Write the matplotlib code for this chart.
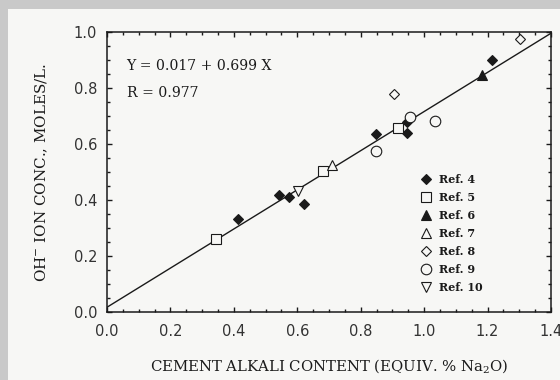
import matplotlib
matplotlib.use("Agg")
import matplotlib.pyplot as plt
from matplotlib.patches import Rectangle
from matplotlib.ticker import MultipleLocator
import numpy as np

# ---- data ----
ref4_x = [0.412, 0.543, 0.573, 0.622, 0.848, 0.947, 0.947, 1.213]
ref4_y = [0.331, 0.419, 0.409, 0.386, 0.635, 0.679, 0.638, 0.901]
ref5_x = [0.344, 0.680, 0.916]
ref5_y = [0.260, 0.505, 0.657]
ref6_x = [1.182]
ref6_y = [0.846]
ref7_x = [0.711]
ref7_y = [0.525]
ref8_x = [0.904, 1.301]
ref8_y = [0.777, 0.974]
ref9_x = [0.848, 0.955, 1.034]
ref9_y = [0.576, 0.695, 0.683]
ref10_x = [0.601]
ref10_y = [0.432]
fit_intercept = 0.017
fit_slope = 0.699
fit_r = 0.977
x_ticks = [0.0, 0.2, 0.4, 0.6, 0.8, 1.0, 1.2, 1.4]
y_ticks = [0.0, 0.2, 0.4, 0.6, 0.8, 1.0]

plt.rcParams['mathtext.fontset'] = 'dejavuserif'
ink = '#1a1a1a'
page = '#f7f7f5'
border = '#c9c9c9'

fig = plt.figure(figsize=(5.6, 3.8), dpi=100, facecolor=page)
# scanned-page grey border
fig.patches.append(Rectangle((0, 0), 8/560, 1, transform=fig.transFigure,
                             facecolor=border, edgecolor='none', zorder=0))
fig.patches.append(Rectangle((0, 1 - 9/380), 1, 9/380, transform=fig.transFigure,
                             facecolor=border, edgecolor='none', zorder=0))

ax = fig.add_axes([107/560, 1 - 312/380, 444/560, 280/380])
ax.set_facecolor(page)

series = [
    (ref4_x, ref4_y, 'D', True, 5.2, 'Ref. 4'),
    (ref5_x, ref5_y, 's', False, 7.2, 'Ref. 5'),
    (ref6_x, ref6_y, '^', True, 7.0, 'Ref. 6'),
    (ref7_x, ref7_y, '^', False, 7.0, 'Ref. 7'),
    (ref8_x, ref8_y, 'D', False, 5.0, 'Ref. 8'),
    (ref9_x, ref9_y, 'o', False, 7.6, 'Ref. 9'),
    (ref10_x, ref10_y, 'v', False, 7.0, 'Ref. 10'),
]

xs = np.array([0.0, 1.4])
ax.plot(xs, fit_intercept + fit_slope * xs, color=ink, lw=1.0, zorder=2)

handles = []
for x, y, m, filled, ms, lab in series:
    h, = ax.plot(x, y, linestyle='none', marker=m, ms=ms,
                 markerfacecolor=ink if filled else page,
                 markeredgecolor=ink, markeredgewidth=0.8, label=lab, zorder=3)
    handles.append(h)

ax.set_xlim(0, 1.4)
ax.set_ylim(0, 1.0)
ax.set_xticks(x_ticks)
ax.set_yticks(y_ticks)
ax.xaxis.set_minor_locator(MultipleLocator(0.05))
ax.yaxis.set_minor_locator(MultipleLocator(0.05))
ax.xaxis.set_major_formatter(matplotlib.ticker.FormatStrFormatter('%.1f'))
ax.yaxis.set_major_formatter(matplotlib.ticker.FormatStrFormatter('%.1f'))
ax.tick_params(which='both', direction='in', top=True, right=True, color=ink, width=1.0)
ax.tick_params(which='major', length=3.8)
ax.tick_params(which='minor', length=2.0)
ax.tick_params(axis='x', which='major', pad=9, labelsize=10.5, labelcolor='#333333')
ax.tick_params(axis='y', which='major', pad=7, labelsize=10.5, labelcolor='#333333')
for lbl in ax.get_xticklabels() + ax.get_yticklabels():
    lbl.set_family('DejaVu Sans')
for s in ax.spines.values():
    s.set_linewidth(1.1)
    s.set_color(ink)

ax.set_xlabel('CEMENT ALKALI CONTENT (EQUIV. % Na$_2$O)', family='DejaVu Serif',
              fontsize=10.7, color=ink)
ax.xaxis.set_label_coords(0.5, -0.16)
ax.set_ylabel('OH$^{-}$ ION CONC., MOLES/L.', family='DejaVu Serif',
              fontsize=10.9, color=ink)
ax.yaxis.set_label_coords(-0.128, 0.5)

ax.text(0.044, 0.880, f'Y = {fit_intercept:.3f} + {fit_slope:.3f} X', transform=ax.transAxes,
        family='DejaVu Serif', fontsize=10.1, color=ink, va='center', ha='left')
ax.text(0.044, 0.781, f'R = {fit_r:.3f}', transform=ax.transAxes,
        family='DejaVu Serif', fontsize=10.1, color=ink, va='center', ha='left')

leg = ax.legend(handles=handles, loc='upper left', bbox_to_anchor=(0.706, 0.493),
                frameon=False, borderpad=0, borderaxespad=0, handlelength=1.0,
                handletextpad=0.65, labelspacing=0.63,
                prop={'family': 'DejaVu Serif', 'size': 8, 'weight': 'bold'})
for t in leg.get_texts():
    t.set_color(ink)

fig.savefig('out.png', dpi=100, facecolor=page)
